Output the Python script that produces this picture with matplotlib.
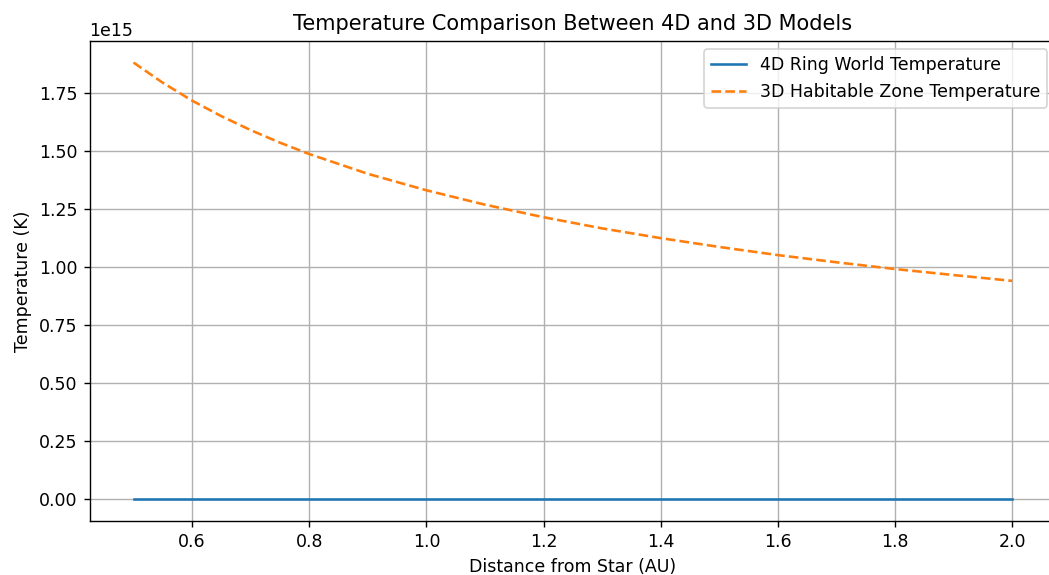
import numpy as np
import matplotlib
matplotlib.use('Agg')
import matplotlib.pyplot as plt

# distance from star (AU) and temperatures (units of 1e15 K)
distance = [0.5, 0.55, 0.6, 0.65, 0.7, 0.75, 0.8, 0.9, 1.0, 1.1, 1.2, 1.3, 1.4,
            1.5, 1.6, 1.7, 1.8, 1.9, 2.0]
temp_3d = [1.880, 1.793, 1.716, 1.649, 1.589, 1.535, 1.486, 1.401, 1.330, 1.268,
           1.214, 1.166, 1.124, 1.086, 1.051, 1.020, 0.991, 0.965, 0.940]
temp_4d = [0.0] * len(distance)

d = np.array(distance)
t3 = np.array(temp_3d) * 1e15
t4 = np.array(temp_4d) * 1e15

fig, ax = plt.subplots(figsize=(8.392, 4.6), dpi=125)
# the original picture is clipped on the right, so the axes run past the edge
plt.subplots_adjust(left=0.0854, right=1.0067, top=0.9292, bottom=0.0939)

ax.plot(d, t4, label='4D Ring World Temperature')
ax.plot(d, t3, '--', label='3D Habitable Zone Temperature')
ax.set_title('Temperature Comparison Between 4D and 3D Models')
ax.set_xlabel('Distance from Star (AU)')
ax.set_ylabel('Temperature (K)')
ax.legend()
ax.grid(True)

plt.savefig('out.png', dpi=125)
